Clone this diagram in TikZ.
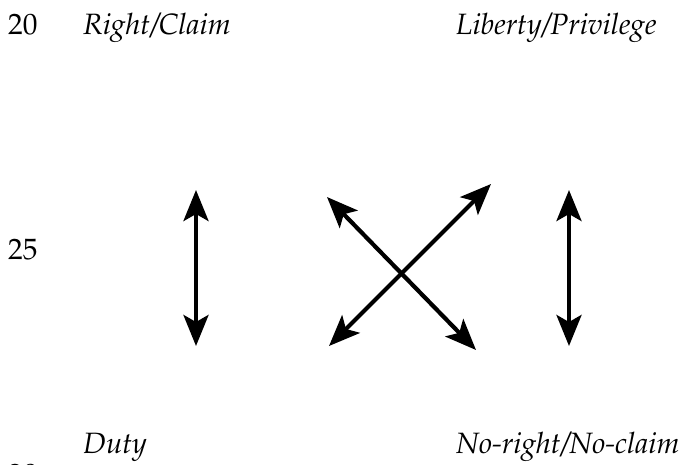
\documentclass[tikz,border=0pt]{standalone}
\usepackage[T1]{fontenc}
\usepackage{mathpazo}
\usetikzlibrary{arrows.meta}
\begin{document}
\begin{tikzpicture}[x=1pt,y=-1pt,
  lbl/.style={anchor=base west,inner sep=0pt,font=\fontsize{29.4}{35}\selectfont\itshape},
  lnum/.style={anchor=base west,inner sep=0pt,font=\fontsize{29.4}{35}\selectfont},
  rel/.style={line width=4.2pt,{Stealth[length=31pt,width=25pt,inset=7pt]}-{Stealth[length=31pt,width=25pt,inset=7pt]}}]
  \clip (0,0) rectangle (683,464);
  \useasboundingbox (0,0) rectangle (683,464);

  % line numbers
  \node[lnum] (n20) at (8,34) {20};
  \node[lnum] (n25) at (8,259) {25};
  \node[lnum] (n30) at (8,484) {30};

  % the four positions
  \node[lbl] (right) at (83,34) {Right/Claim};
  \node[lbl] (liberty) at (456,34) {Liberty/Privilege};
  \node[lbl] (duty) at (83,453) {Duty};
  \node[lbl] (noright) at (456,453) {No-right/No-claim};

  % arrow end points
  \coordinate (lt) at (196,190);
  \coordinate (lb) at (196,346);
  \coordinate (rt) at (569,190);
  \coordinate (rb) at (569,346);
  \coordinate (ul) at (327,197);
  \coordinate (lr) at (476,350);
  \coordinate (ll) at (329,346);
  \coordinate (ur) at (491,184);

  % correlatives and opposites
  \draw[rel] (lt) -- (lb);
  \draw[rel] (rt) -- (rb);
  \draw[rel] (ul) -- (lr);
  \draw[rel] (ll) -- (ur);
\end{tikzpicture}
\end{document}
